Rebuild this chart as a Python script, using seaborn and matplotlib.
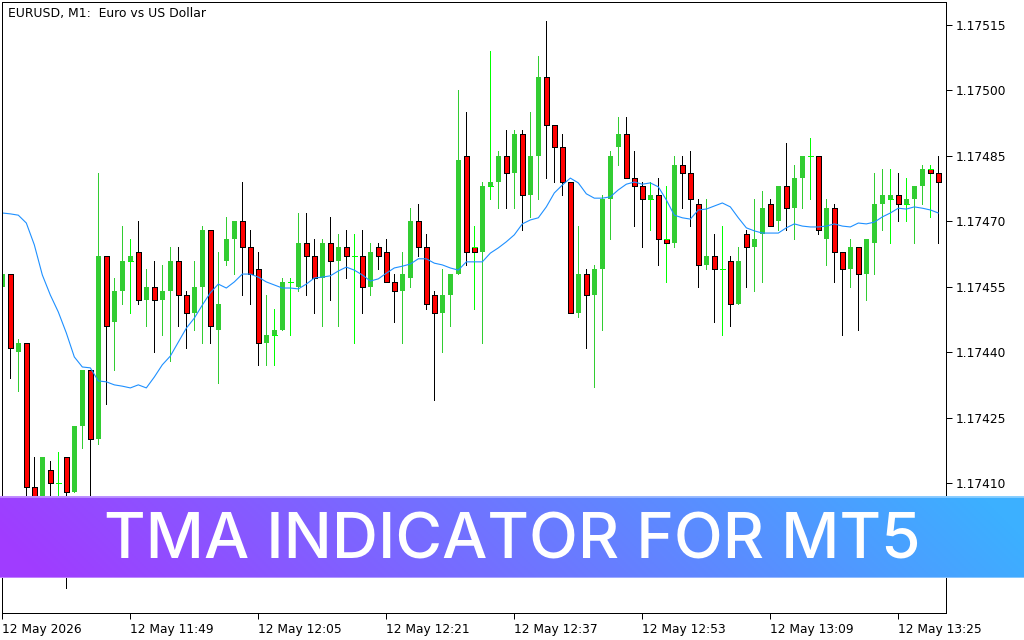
import numpy as np
import pandas as pd
import matplotlib
matplotlib.use("Agg")
import matplotlib.pyplot as plt
import seaborn as sns

# everything in points above 1.17000, so 458 means 1.17458
opens = [455, 458, 440, 442, 409, 404, 413, 410, 416, 408,
         423, 436, 420, 462, 447, 454, 461, 463, 452, 455,
         452, 454, 461, 453, 449, 455, 468, 445, 461, 466,
         470, 464, 459, 442, 444, 445, 456, 455, 465, 462,
         457, 465, 461, 464, 462, 462, 455, 464, 463, 456,
         454, 457, 470, 464, 453, 449, 453, 458, 485, 464,
         463, 478, 479, 485, 481, 490, 476, 485, 503, 492,
         487, 479, 449, 458, 453, 459, 475, 487, 490, 480,
         478, 475, 476, 466, 465, 483, 481, 474, 460, 462,
         459, 461, 451, 467, 464, 467, 474, 470, 478, 473,
         480, 485, 485, 466, 473, 463, 459, 464, 458, 465,
         474, 475, 476, 474, 475, 478, 482, 481]
highs = [458, 458, 443, 442, 416, 416, 415, 417, 416, 423,
         436, 436, 481, 462, 457, 469, 466, 470, 459, 461,
         460, 464, 464, 454, 461, 469, 468, 463, 471, 470,
         479, 468, 463, 453, 450, 457, 457, 472, 472, 466,
         466, 471, 467, 468, 467, 468, 465, 465, 466, 458,
         463, 473, 474, 467, 454, 459, 458, 500, 495, 469,
         479, 509, 486, 491, 491, 491, 495, 508, 516, 492,
         490, 479, 469, 459, 460, 476, 486, 494, 494, 486,
         479, 479, 480, 478, 485, 485, 486, 475, 475, 467,
         469, 462, 464, 468, 475, 477, 475, 478, 488, 483,
         485, 489, 485, 475, 474, 463, 466, 464, 466, 481,
         482, 482, 481, 480, 478, 483, 483, 485]
lows = [455, 434, 431, 402, 400, 402, 403, 404, 386, 408,
        418, 405, 419, 428, 436, 451, 449, 451, 446, 440,
        444, 438, 446, 441, 445, 442, 442, 433, 460, 458,
        453, 451, 437, 437, 437, 445, 444, 454, 453, 449,
        446, 452, 446, 457, 442, 449, 453, 459, 456, 447,
        442, 455, 462, 450, 429, 440, 446, 458, 460, 450,
        442, 475, 473, 473, 473, 468, 471, 475, 480, 479,
        476, 449, 448, 441, 432, 445, 466, 483, 480, 469,
        464, 468, 460, 456, 464, 473, 469, 455, 459, 447,
        444, 446, 451, 455, 454, 456, 469, 468, 468, 466,
        473, 475, 467, 460, 456, 444, 455, 445, 452, 458,
        468, 465, 470, 470, 465, 474, 471, 465]
closes = [458, 441, 442, 409, 404, 416, 410, 410, 408, 423,
          436, 420, 462, 446, 454, 461, 462, 452, 455, 452,
          454, 461, 453, 449, 455, 468, 446, 451, 466, 470,
          464, 458, 442, 444, 445, 456, 456, 465, 462, 457,
          465, 461, 464, 462, 462, 455, 463, 462, 456, 454,
          458, 470, 464, 451, 449, 453, 458, 484, 463, 463,
          478, 479, 485, 481, 490, 476, 485, 503, 492, 487,
          479, 449, 458, 453, 459, 475, 485, 490, 480, 478,
          475, 476, 466, 465, 483, 481, 475, 460, 462, 459,
          459, 451, 461, 464, 466, 473, 469, 478, 473, 480,
          485, 485, 468, 473, 463, 459, 464, 458, 466, 474,
          476, 476, 474, 475, 478, 482, 481, 479]
tma = [471.9, 471.7, 471.4, 469.6, 464.6, 457.7, 453.1, 449.2, 444.4, 438.9,
       436.6, 436.4, 433.4, 433.2, 432.5, 432.2, 431.8, 432.5, 431.8, 434.3,
       437.1, 439.1, 442.3, 445.5, 447.8, 450.8, 453.6, 455.6, 454.7, 456.1,
       457.9, 457.9, 457.2, 456.1, 455.4, 454.7, 454.7, 454.5, 455.6, 457.0,
       457.2, 457.5, 458.6, 459.5, 458.8, 457.7, 456.3, 456.8, 458.1, 459.3,
       459.7, 460.2, 461.4, 461.4, 460.4, 460.0, 459.3, 458.8, 460.7, 460.7,
       460.7, 462.7, 463.9, 465.3, 466.9, 469.4, 470.3, 470.8, 473.3, 476.5,
       478.3, 479.9, 478.8, 476.3, 475.3, 475.3, 475.6, 477.2, 478.5, 479.0,
       478.5, 478.8, 477.9, 474.9, 471.4, 470.8, 470.5, 472.6, 472.8, 473.5,
       474.2, 473.3, 470.8, 468.5, 467.8, 467.3, 467.3, 467.3, 468.5, 469.4,
       468.9, 468.7, 468.7, 468.9, 469.4, 468.9, 468.7, 469.6, 469.4, 469.8,
       471.0, 471.9, 473.0, 472.8, 473.3, 473.0, 472.6, 471.9]

price_ticks = [1.17410, 1.17425, 1.17440, 1.17455, 1.17470, 1.17485, 1.17500, 1.17515]
time_labels = ["12 May 2026", "12 May 11:49", "12 May 12:05", "12 May 12:21",
               "12 May 12:37", "12 May 12:53", "12 May 13:09", "12 May 13:25"]

UP = "#32CD32"
DOJI = "#00FF00"
DOWN = "#FF0000"
PX = 0.72  # one pixel at dpi 100


def to_price(points):
    return 1.17 + np.array(points, dtype=float) / 1e5


def load_candles():
    df = pd.DataFrame({"open": to_price(opens), "high": to_price(highs),
                       "low": to_price(lows), "close": to_price(closes),
                       "tma": to_price(tma)})
    df["bar"] = np.arange(len(df))
    df["body"] = (df["close"] - df["open"]).abs()
    df["bottom"] = df[["open", "close"]].min(axis=1)
    return df


def draw_candles(ax, df):
    up = df[df["close"] > df["open"]]
    down = df[df["close"] < df["open"]]
    doji = df[np.isclose(df["close"], df["open"])]

    # wicks go under the bodies
    for part, colour in [(up, UP), (down, "black"), (doji, DOJI)]:
        wicks = ax.vlines(part["bar"], part["low"], part["high"], color=colour, lw=PX, zorder=0.5)
        wicks.set_antialiased(False)

    sns.barplot(data=up, x="bar", y="body", bottom=up["bottom"].values, native_scale=True,
                color=UP, saturation=1, width=0.625, errorbar=None, ax=ax,
                edgecolor=UP, linewidth=0)
    n_up = len(ax.patches)
    sns.barplot(data=down, x="bar", y="body", bottom=down["bottom"].values, native_scale=True,
                color=DOWN, saturation=1, width=0.6, errorbar=None, ax=ax,
                edgecolor="black", linewidth=0.45)
    for i, patch in enumerate(ax.patches):
        patch.set_antialiased(False)
        if i >= n_up:
            patch.set_facecolor(DOWN)
            patch.set_edgecolor("black")
    ticks = ax.hlines(doji["open"], doji["bar"] - 0.3, doji["bar"] + 0.3, color=DOJI, lw=PX)
    ticks.set_antialiased(False)


def draw_banner(fig):
    # banner runs across the whole picture, purple to blue on a slant
    banner = fig.add_axes([0, 1 - 578 / 640, 1, 82 / 640], zorder=5)
    gx, gy = np.meshgrid(np.linspace(0, 1, 512), np.linspace(1, 0, 41))
    t = np.clip(gx + (gy - 0.5) * 0.08, 0, 1)[..., None]
    left = np.array([0xA0, 0x3C, 0xFF]) / 255
    right = np.array([0x3C, 0xB0, 0xFF]) / 255
    banner.imshow(left + (right - left) * t, aspect="auto", extent=(0, 1, 0, 1))
    banner.axis("off")
    for edge in (0.0, 1.0):
        banner.axhline(edge, color="white", alpha=0.4, lw=2)
    banner.text(512.5 / 1024, 0.445, "TMA INDICATOR FOR MT5", color="white", ha="center",
                va="center", fontsize=46, family="Inter", weight="medium",
                transform=banner.transAxes)


if __name__ == "__main__":
    sns.set_theme(style="ticks", rc={"font.family": "DejaVu Sans"})
    df = load_candles()

    fig = plt.figure(figsize=(10.24, 6.4), dpi=100)
    ax = fig.add_axes([2 / 1024, 1 - 613 / 640, 944 / 1024, 611 / 640])

    draw_candles(ax, df)
    sns.lineplot(data=df, x="bar", y="tma", color="#1E90FF", lw=0.8, ax=ax)

    ax.set_xlim(-0.04, 117.96)
    ax.set_ylim(1.17 + 380.2 / 1e5, 1.17 + 520.27 / 1e5)
    ax.set_xlabel("")
    ax.set_ylabel("")

    ax.yaxis.tick_right()
    ax.set_yticks(price_ticks)
    ax.set_yticklabels(["%.5f" % p for p in price_ticks])
    ax.set_xticks(np.arange(0, 118, 16))
    ax.set_xticklabels(time_labels, ha="left")
    ax.tick_params(axis="both", labelsize=8.8, length=4, width=PX, color="black",
                   labelcolor="black", pad=3)
    for spine in ax.spines.values():
        spine.set_visible(True)
        spine.set_color("black")
        spine.set_linewidth(PX)

    ax.text(6 / 944, 1 - 11.5 / 611, "EURUSD, M1:  Euro vs US Dollar", transform=ax.transAxes,
            fontsize=8.9, va="center", ha="left", color="black")

    draw_banner(fig)

    fig.savefig("out.png", dpi=100)
